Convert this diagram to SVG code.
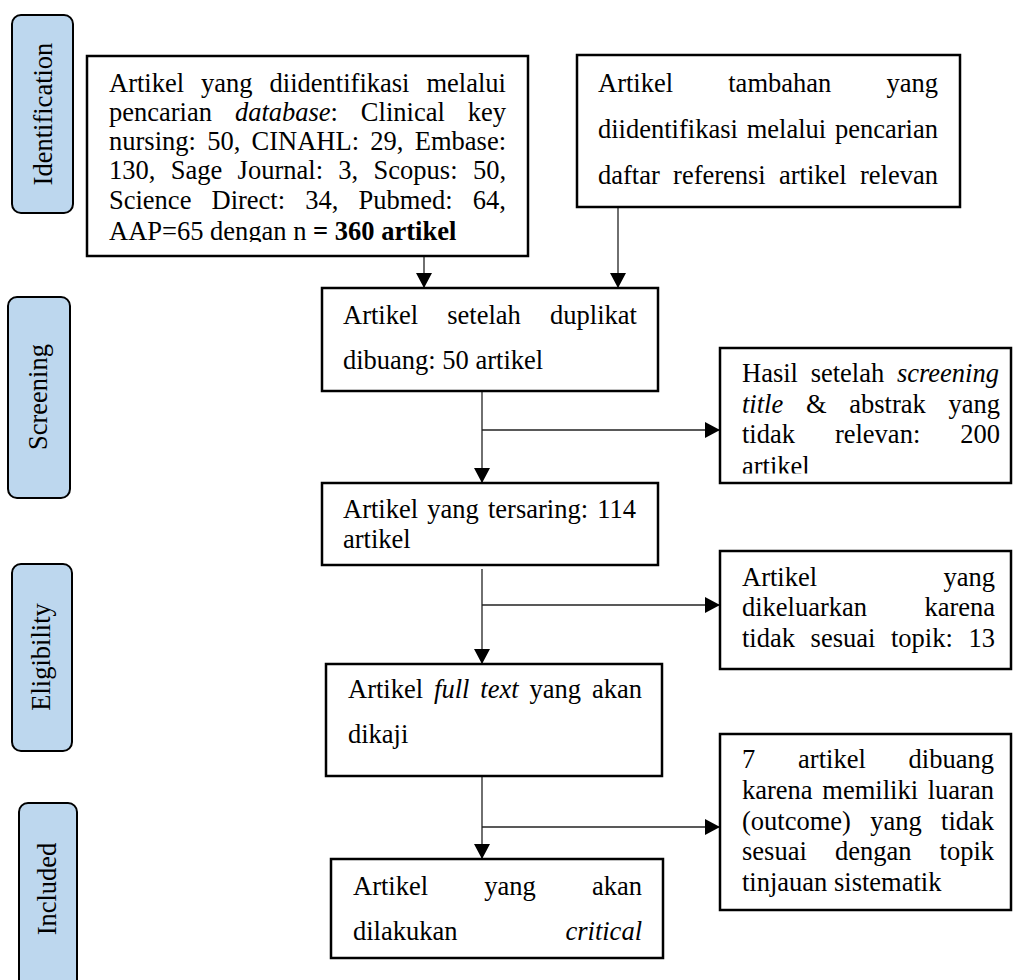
<svg xmlns="http://www.w3.org/2000/svg" width="1013" height="980" viewBox="0 0 1013 980">
<style>
.lbl{fill:#BDD7EE;stroke:#000;stroke-width:2}
.box{fill:#fff;stroke:#000;stroke-width:2.5}
.t{font-family:"Liberation Serif","Times New Roman",serif;font-size:26.5px;fill:#000}
.i{font-style:italic}
.b{font-weight:bold}
.e{text-anchor:end}
.conn{stroke:#222;stroke-width:1.3;fill:none}
</style>
<defs>
<marker id="ah" markerUnits="userSpaceOnUse" markerWidth="16" markerHeight="16" refX="15" refY="8" orient="auto">
<path d="M0,0 L15,8 L0,16 z" fill="#000"/>
</marker>
<clipPath id="c1"><rect x="87" y="56" width="441" height="186"/></clipPath>
<clipPath id="c5"><rect x="720" y="348" width="293" height="125.5"/></clipPath>
</defs>
<rect width="1013" height="980" fill="#fff"/>

<g id="phase-identification">
<rect class="lbl" x="12" y="15" width="61" height="198" rx="9"/>
<text class="t" transform="translate(52,114) rotate(-90)" text-anchor="middle">Identification</text>
</g>
<g id="phase-screening">
<rect class="lbl" x="8" y="297" width="62" height="201" rx="9"/>
<text class="t" transform="translate(47,397) rotate(-90)" text-anchor="middle">Screening</text>
</g>
<g id="phase-eligibility">
<rect class="lbl" x="12" y="564" width="60" height="187" rx="9"/>
<text class="t" transform="translate(50,657) rotate(-90)" text-anchor="middle">Eligibility</text>
</g>
<g id="phase-included">
<rect class="lbl" x="19" y="803" width="58" height="200" rx="9"/>
<text class="t" transform="translate(56,889) rotate(-90)" text-anchor="middle">Included</text>
</g>

<g id="connectors">
<line class="conn" x1="424" y1="256" x2="424" y2="288" marker-end="url(#ah)"/>
<line class="conn" x1="618" y1="207" x2="618" y2="288" marker-end="url(#ah)"/>
<line class="conn" x1="482" y1="391" x2="482" y2="483" marker-end="url(#ah)"/>
<line class="conn" x1="482" y1="430" x2="720" y2="430" marker-end="url(#ah)"/>
<line class="conn" x1="482" y1="569" x2="482" y2="664" marker-end="url(#ah)"/>
<line class="conn" x1="482" y1="605" x2="720" y2="605" marker-end="url(#ah)"/>
<line class="conn" x1="482" y1="776" x2="482" y2="859" marker-end="url(#ah)"/>
<line class="conn" x1="482" y1="827" x2="720" y2="827" marker-end="url(#ah)"/>
</g>

<g id="database">
<rect class="box" x="87" y="56" width="441" height="200"/>
<g clip-path="url(#c1)">
<text class="t" x="109" y="92" word-spacing="10.39">Artikel yang diidentifikasi melalui</text>
<text class="t" x="109" y="121" word-spacing="16.29">pencarian <tspan class="i">database</tspan>: Clinical key</text>
<text class="t" x="109" y="150" word-spacing="4.67">nursing: 50, CINAHL: 29, Embase:</text>
<text class="t" x="109" y="179" word-spacing="8.74">130, Sage Journal: 3, Scopus: 50,</text>
<text class="t" x="109" y="209" word-spacing="13.5">Science Direct: 34, Pubmed: 64,</text>
<text class="t" x="109" y="240">AAP=65 dengan n <tspan class="b">= 360 artikel</tspan></text>
</g>
</g>

<g id="tambahan">
<rect class="box" x="577" y="55" width="383" height="152"/>
<text class="t" x="598" y="92" word-spacing="48.57">Artikel tambahan yang</text>
<text class="t" x="598" y="138" word-spacing="2.18">diidentifikasi melalui pencarian</text>
<text class="t" x="598" y="184" word-spacing="6.64">daftar referensi artikel relevan</text>
</g>

<g id="duplikat">
<rect class="box" x="322" y="288" width="336" height="103"/>
<text class="t" x="343" y="324" word-spacing="22.6">Artikel setelah duplikat</text>
<text class="t" x="343" y="369">dibuang: 50 artikel</text>
</g>

<g id="screening-excluded">
<rect class="box" x="720" y="348" width="291" height="135"/>
<g clip-path="url(#c5)">
<text class="t" x="742" y="382" word-spacing="6.08">Hasil setelah <tspan class="i">screening</tspan></text>
<text class="t" x="742" y="413" word-spacing="16.07"><tspan class="i">title</tspan> &amp; abstrak yang</text>
<text class="t" x="742" y="443" word-spacing="33.3">tidak relevan: 200</text>
<text class="t" x="742" y="475">artikel</text>
</g>
</g>

<g id="tersaring">
<rect class="box" x="322" y="483" width="336" height="82"/>
<text class="t" x="343" y="518" word-spacing="2.57">Artikel yang tersaring: 114</text>
<text class="t" x="343" y="548">artikel</text>
</g>

<g id="eligibility-excluded">
<rect class="box" x="720" y="551" width="291" height="118"/>
<text class="t" x="742" y="586">Artikel</text>
<text class="t e" x="995" y="586">yang</text>
<text class="t" x="742" y="616">dikeluarkan</text>
<text class="t e" x="995" y="616">karena</text>
<text class="t" x="742" y="647" word-spacing="9.0">tidak sesuai topik: 13</text>
</g>

<g id="fulltext">
<rect class="box" x="326" y="664" width="336" height="112"/>
<text class="t" x="348" y="698" word-spacing="4.32">Artikel <tspan class="i">full text</tspan> yang akan</text>
<text class="t" x="348" y="743">dikaji</text>
</g>

<g id="outcome-excluded">
<rect class="box" x="720" y="734" width="291" height="176"/>
<text class="t" x="742" y="768" word-spacing="36.2">7 artikel dibuang</text>
<text class="t" x="742" y="799" word-spacing="3.1">karena memiliki luaran</text>
<text class="t" x="742" y="830" word-spacing="12.7">(outcome) yang tidak</text>
<text class="t" x="742" y="860" word-spacing="21.5">sesuai dengan topik</text>
<text class="t" x="742" y="891">tinjauan sistematik</text>
</g>

<g id="critical">
<rect class="box" x="331" y="859" width="332" height="99"/>
<text class="t" x="353" y="895" word-spacing="49.6">Artikel yang akan</text>
<text class="t" x="353" y="940">dilakukan</text>
<text class="t e i" x="642" y="940">critical</text>
</g>
</svg>
